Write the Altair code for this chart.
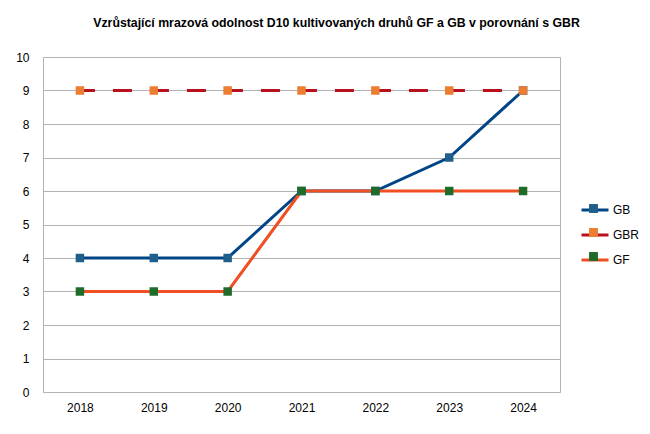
import altair as alt
import pandas as pd

years = ["2018", "2019", "2020", "2021", "2022", "2023", "2024"]
gb = [4, 4, 4, 6, 6, 7, 9]
gbr = [9, 9, 9, 9, 9, 9, 9]
gf = [3, 3, 3, 6, 6, 6, 6]
series = ["GB", "GBR", "GF"]
line_colors = ["#004586", "#b8101c", "#f04e23"]
marker_colors = ["#1f5f8b", "#ed7d31", "#1e6b2a"]

rows = []
for name, vals in zip(series, [gb, gbr, gf]):
    for y, v in zip(years, vals):
        rows.append({"rok": y, "hodnota": v, "serie": name})
df = pd.DataFrame(rows)

x = alt.X("rok:N", sort=years, title=None,
          scale=alt.Scale(paddingInner=0, paddingOuter=0),
          axis=alt.Axis(labelAngle=0, labelPadding=10, ticks=False, domain=False,
                        labelFontSize=12, labelColor="#000000", labelFont="Liberation Sans"))
y = alt.Y("hodnota:Q", title=None,
          scale=alt.Scale(domain=[0, 10], nice=False, zero=True),
          axis=alt.Axis(values=list(range(11)), tickCount=11, labelPadding=14, ticks=False,
                        domain=False, gridColor="#b3b3b3", gridWidth=1,
                        labelFontSize=12, labelColor="#000000", labelFont="Liberation Sans"))

base = alt.Chart(df)

legend_common = dict(
    orient="none", legendX=537, legendY=138, title=None,
    labelFontSize=12, labelFont="Liberation Sans",
    symbolSize=729, rowPadding=4, labelOffset=3,
)

lines_solid = base.transform_filter(alt.datum.serie != "GBR").mark_line(strokeWidth=3).encode(
    x=x, y=y,
    detail="serie:N",
    stroke=alt.Stroke("serie:N", scale=alt.Scale(domain=series, range=line_colors),
                      legend=alt.Legend(symbolType="M-1,0L1,0", symbolStrokeWidth=3,
                                        labelColor="#000000", **legend_common)),
)
lines_dash = base.transform_filter(alt.datum.serie == "GBR").mark_line(
    strokeWidth=3, strokeDash=[19, 18], strokeDashOffset=4).encode(
    x=x, y=y,
    stroke=alt.Stroke("serie:N", scale=alt.Scale(domain=series, range=line_colors), legend=None),
)
points = base.mark_point(shape="square", filled=True, size=72, opacity=1).encode(
    x=x, y=y,
    fill=alt.Fill("serie:N", scale=alt.Scale(domain=series, range=marker_colors),
                  legend=alt.Legend(symbolType="M-0.33,-0.33L0.33,-0.33L0.33,0.33L-0.33,0.33Z",
                                    symbolStrokeWidth=0, labelOpacity=0, **legend_common)),
    order=alt.Order("serie:N"),
)

chart = alt.layer(lines_solid, lines_dash, points).resolve_scale(
    stroke="independent", fill="independent"
).properties(
    width=517, height=335,
    title=alt.TitleParams(
        "Vzrůstající mrazová odolnost D10 kultivovaných druhů GF a GB v porovnání s GBR",
        fontSize=12.3, fontWeight="bold", font="Liberation Sans", color="#000000",
        anchor="middle", offset=22, dx=35),
    autosize=alt.AutoSizeParams(type="none"),
    padding={"left": 43, "top": 57, "right": 90, "bottom": 42},
    background="white",
).configure_view(stroke="#b3b3b3", strokeWidth=1)

chart.save("out.html", embed_options={"renderer": "svg", "actions": False})
